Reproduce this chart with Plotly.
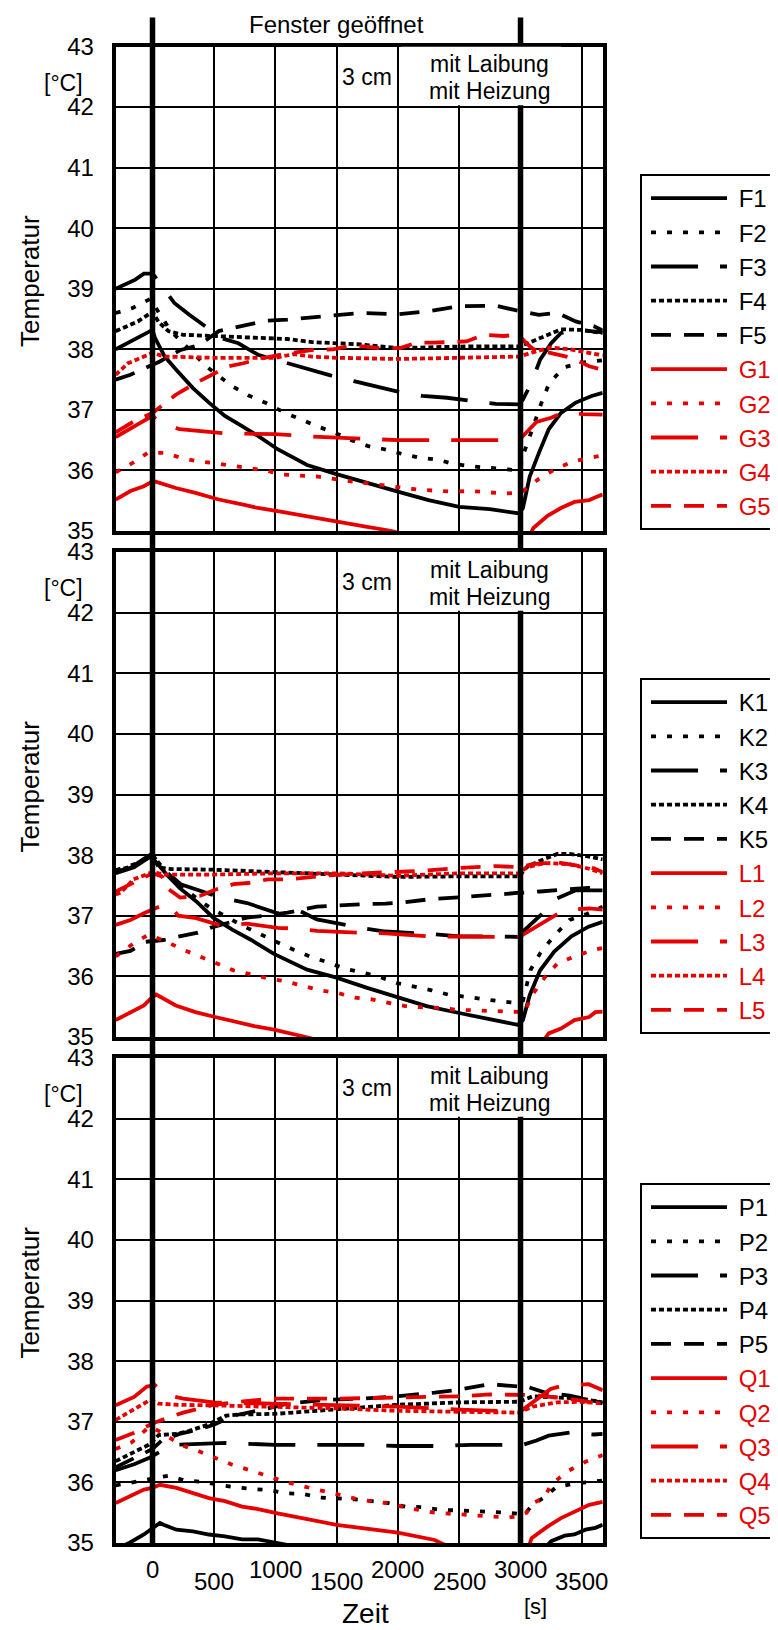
import plotly.graph_objects as go

# ---------------- data (time in s, temperature in °C) ----------------
# Panel 1
F1_t = [-300,-180,-70,0,20,100,195,330,460,590,730,860,1020,1260,1500,1750,2000,2250,2500,2750,2990,3020,3075,3150,3230,3330,3450,3580,3670]
F1_T = [38.0,38.13,38.24,38.32,38.19,37.88,37.66,37.36,37.12,36.9,36.73,36.57,36.35,36.09,35.94,35.79,35.65,35.51,35.4,35.36,35.29,35.38,35.9,36.29,36.68,36.95,37.12,37.23,37.28]
F2_t = [-300,-165,-20,150,300,450,650,780,930,1070,1200,1340,1490,1620,1760,1890,2040,2180,2320,2450,2590,2740,2870,2990,3030,3080,3175,3230,3350,3500,3670]
F2_T = [38.6,38.68,38.83,38.3,38.0,37.7,37.39,37.24,37.11,36.96,36.85,36.73,36.62,36.5,36.4,36.35,36.27,36.21,36.18,36.11,36.07,36.04,36.01,36.0,36.3,36.6,37.14,37.42,37.7,37.78,37.82]
F3_t = [-300,-200,-140,-70,0,20,180,300,430,520,700,860,1050,1270,1450,1650,1830,2000,2200,2400,2600,2800,2990,3020,3090,3160,3250,3330,3470,3670]
F3_T = [39.0,39.09,39.15,39.25,39.25,39.2,38.76,38.57,38.38,38.21,38.1,37.91,37.8,37.67,37.57,37.47,37.39,37.3,37.23,37.2,37.15,37.1,37.09,37.17,37.45,37.83,38.1,38.27,38.32,38.28]
F4_t = [-300,-200,-120,-60,0,50,130,250,500,800,1100,1300,1500,1700,2000,2300,2600,2990,3060,3200,3330,3500,3670]
F4_T = [38.3,38.38,38.46,38.54,38.62,38.45,38.3,38.24,38.22,38.2,38.17,38.12,38.1,38.08,38.02,38.04,38.05,38.05,38.1,38.22,38.33,38.32,38.27]
F5_t = [-300,-180,-50,60,230,380,540,660,800,920,1100,1400,1700,2000,2250,2500,2800,2950,3020,3150,3300,3450,3600,3670]
F5_T = [37.5,37.58,37.7,37.8,37.99,38.07,38.3,38.35,38.42,38.47,38.49,38.55,38.6,38.58,38.63,38.71,38.72,38.65,38.62,38.57,38.6,38.46,38.38,38.31]
G1_t = [-300,-180,-70,0,20,190,350,540,730,860,1020,1260,1500,1750,1950,2500,3000,3105,3220,3330,3440,3560,3640,3670]
G1_T = [35.52,35.66,35.74,35.82,35.82,35.71,35.63,35.52,35.44,35.38,35.33,35.24,35.15,35.07,35.0,34.7,34.6,35.05,35.25,35.38,35.48,35.51,35.58,35.6]
G2_t = [-300,-165,-40,100,230,370,510,640,775,915,1070,1340,1620,1890,2180,2450,2600,2730,2870,2990,3020,3150,3290,3430,3570,3670]
G2_T = [35.97,36.12,36.29,36.29,36.21,36.15,36.12,36.08,36.04,36.0,35.93,35.9,35.82,35.76,35.68,35.65,35.66,35.64,35.62,35.63,35.66,35.86,36.03,36.15,36.21,36.25]
G3_t = [-300,-150,0,50,220,600,1000,1300,1700,2000,2500,2990,3020,3130,3250,3370,3500,3670]
G3_T = [36.55,36.72,36.9,36.81,36.68,36.61,36.6,36.56,36.53,36.5,36.5,36.5,36.57,36.8,36.87,36.98,36.93,36.92]
G4_t = [-300,-200,-70,0,100,500,1000,1150,1300,1500,2000,2500,2990,3100,3250,3400,3550,3670]
G4_T = [37.58,37.77,37.88,37.94,37.88,37.86,37.86,37.92,37.88,37.86,37.84,37.86,37.88,37.95,38.03,38.0,37.95,37.9]
G5_t = [-300,-160,0,100,190,350,460,620,740,910,1100,1310,1470,1600,1720,1850,2020,2150,2290,2450,2560,2700,2860,2980,3075,3150,3200,3415,3560,3670]
G5_T = [36.63,36.8,36.95,37.1,37.25,37.44,37.55,37.72,37.77,37.86,37.93,37.99,38.0,38.05,38.05,38.02,38.02,38.11,38.11,38.13,38.13,38.24,38.22,38.24,38.05,37.94,37.96,37.86,37.72,37.66]

# Panel 2
K1_t = [-300,-180,-70,-20,0,10,115,220,355,500,650,805,990,1260,1500,1750,1985,2235,2490,2720,2980,3020,3075,3160,3275,3415,3555,3670]
K1_T = [37.73,37.79,37.94,38.01,38.03,37.93,37.68,37.46,37.24,36.96,36.77,36.6,36.37,36.11,35.98,35.81,35.67,35.51,35.4,35.31,35.2,35.28,35.69,36.1,36.41,36.66,36.82,36.9]
K2_t = [-300,-100,0,100,250,470,740,880,1030,1150,1280,1430,1580,1720,1850,1990,2125,2275,2410,2545,2680,2830,2970,3020,3080,3160,3270,3400,3540,3670]
K2_T = [37.75,37.88,38.0,37.75,37.45,37.13,36.83,36.69,36.55,36.44,36.33,36.23,36.12,36.06,35.99,35.89,35.84,35.77,35.7,35.66,35.62,35.59,35.56,35.6,36.1,36.38,36.66,36.93,37.03,37.15]
K3_t = [-300,-150,0,100,230,570,770,1020,1200,1340,1700,1900,2260,2500,2800,2990,3020,3160,3300,3450,3670]
K3_T = [37.7,37.8,38.0,37.75,37.52,37.29,37.21,37.04,37.08,36.94,36.8,36.74,36.7,36.66,36.66,36.65,36.74,37.0,37.29,37.42,37.42]
K4_t = [-300,-150,0,50,150,500,1000,1300,1700,2000,2500,2990,3050,3150,3300,3400,3550,3670]
K4_T = [37.75,37.82,38.0,37.8,37.77,37.76,37.72,37.7,37.66,37.64,37.65,37.65,37.8,37.9,38.02,38.02,37.98,37.93]
K5_t = [-300,-180,-60,90,220,370,470,770,910,1100,1340,1500,1700,1900,2050,2250,2500,2750,2880,2990,3020,3160,3290,3460,3550,3670]
K5_T = [36.37,36.42,36.57,36.6,36.66,36.72,36.8,36.97,37.0,37.05,37.15,37.17,37.19,37.2,37.22,37.27,37.3,37.33,37.36,37.38,37.38,37.4,37.42,37.46,37.46,37.42]
L1_t = [-300,-180,-70,0,30,190,350,510,670,830,990,1150,1250,2000,3000,3230,3330,3440,3560,3610,3670]
L1_T = [35.28,35.41,35.52,35.66,35.7,35.52,35.41,35.33,35.25,35.18,35.12,35.05,35.0,34.6,34.4,35.06,35.14,35.28,35.33,35.41,35.42]
L2_t = [-300,-150,-30,115,250,380,525,660,790,935,1080,1220,1365,1500,1650,1790,1920,2060,2190,2340,2480,2610,2760,2900,3030,3105,3200,3300,3440,3600,3670]
L2_T = [36.33,36.55,36.69,36.57,36.44,36.33,36.22,36.1,36.04,35.97,35.92,35.85,35.77,35.73,35.65,35.62,35.56,35.51,35.49,35.48,35.45,35.44,35.42,35.41,35.41,35.72,35.99,36.21,36.33,36.44,36.47]
L3_t = [-300,-180,-70,0,90,115,210,355,570,770,1020,1150,1340,1700,1900,2260,2450,2820,2990,3020,3130,3250,3360,3560,3670]
L3_T = [36.85,36.93,37.04,37.1,37.18,37.22,37.0,36.96,36.83,36.87,36.8,36.79,36.75,36.72,36.71,36.66,36.66,36.65,36.65,36.69,36.82,36.96,37.1,37.12,37.1]
L4_t = [-300,-260,-155,0,100,500,1000,1500,2000,2500,2990,3050,3200,3400,3550,3670]
L4_T = [37.35,37.38,37.6,37.72,37.68,37.68,37.7,37.7,37.66,37.7,37.7,37.8,37.87,37.85,37.78,37.7]
L5_t = [-300,-150,0,76,130,225,390,510,660,780,940,1100,1400,1700,2000,2200,2500,2800,2990,3100,3300,3450,3600,3670]
L5_T = [37.4,37.55,37.7,37.65,37.44,37.3,37.33,37.43,37.52,37.54,37.6,37.6,37.66,37.7,37.72,37.74,37.79,37.82,37.8,37.85,37.88,37.83,37.78,37.72]

# Panel 3
P1_t = [-300,-190,-70,60,90,195,330,460,590,730,860,1020,1500,2500,3000,3250,3360,3440,3530,3610,3670]
P1_T = [34.9,35.0,35.14,35.33,35.3,35.22,35.19,35.14,35.11,35.06,35.06,35.0,34.8,34.6,34.5,35.03,35.12,35.14,35.22,35.25,35.3]
P2_t = [-300,-155,-20,130,265,400,540,670,820,960,1090,1230,1365,1510,1650,1790,1920,2060,2210,2340,2480,2610,2760,2900,3030,3100,3190,3290,3440,3590,3670]
P2_T = [35.95,36.0,36.05,36.11,36.03,36.01,35.96,35.92,35.89,35.87,35.82,35.81,35.75,35.74,35.72,35.69,35.66,35.6,35.59,35.55,35.54,35.53,35.51,35.5,35.47,35.63,35.75,35.92,35.98,36.02,36.03]
P3_t = [-300,-230,-150,-30,100,200,600,1000,1350,1730,2000,2300,2600,2840,2990,3020,3130,3230,3300,3400,3600,3670]
P3_T = [36.2,36.24,36.3,36.4,36.55,36.62,36.65,36.62,36.62,36.62,36.6,36.6,36.62,36.62,36.62,36.62,36.69,36.77,36.79,36.82,36.79,36.8]
P4_t = [-300,-200,-100,-30,50,200,300,450,600,700,1000,1500,2000,2500,2990,3100,3300,3500,3670]
P4_T = [36.35,36.45,36.55,36.62,36.78,36.8,36.85,36.95,37.1,37.12,37.13,37.2,37.28,37.32,37.33,37.42,37.4,37.38,37.32]
P5_t = [-300,-200,-100,0,80,220,390,500,660,900,1100,1400,1700,2000,2300,2500,2750,2900,2990,3020,3200,3400,3600,3670]
P5_T = [36.25,36.35,36.45,36.55,36.7,36.8,36.88,36.95,37.1,37.2,37.3,37.36,37.38,37.42,37.48,37.53,37.62,37.6,37.58,37.6,37.48,37.43,37.35,37.3]
Q1_t = [-300,-180,-70,0,60,195,330,460,590,730,860,1020,1500,2000,2300,2350,2700,3000,3090,3220,3330,3440,3560,3670]
Q1_T = [35.66,35.77,35.88,35.91,35.96,35.91,35.82,35.74,35.69,35.6,35.56,35.49,35.3,35.17,35.05,35.0,34.7,34.5,35.08,35.27,35.41,35.52,35.63,35.68]
Q2_t = [-300,-170,-25,50,130,230,370,510,650,780,925,1100,1300,1500,1700,1900,2100,2300,2500,2700,2900,3000,3050,3100,3190,3250,3380,3530,3670]
Q2_T = [36.55,36.66,36.92,36.85,36.75,36.62,36.52,36.4,36.29,36.21,36.11,36.0,35.9,35.8,35.71,35.66,35.57,35.5,35.47,35.44,35.42,35.45,35.5,35.66,35.74,35.96,36.18,36.34,36.45]
Q3_t = [-300,-150,-46,22,100,250,500,1000,1500,2000,2500,2990,3020,3133,3246,3330,3556,3670]
Q3_T = [37.27,37.41,37.58,37.6,37.45,37.38,37.32,37.3,37.28,37.25,37.2,37.17,37.2,37.37,37.54,37.59,37.62,37.52]
Q4_t = [-300,-150,-20,50,200,500,1000,1500,2000,2500,2990,3100,3300,3500,3670]
Q4_T = [37.03,37.2,37.36,37.3,37.28,37.27,37.25,37.22,37.18,37.17,37.15,37.25,37.32,37.33,37.3]
Q5_t = [-300,-150,0,100,250,500,800,1000,1500,2000,2250,2500,2750,2990,3100,3300,3500,3670]
Q5_T = [36.7,36.82,36.97,37.05,37.15,37.28,37.35,37.38,37.38,37.4,37.42,37.42,37.45,37.45,37.44,37.4,37.35,37.28]

panel1_names = ["F1", "F2", "F3", "F4", "F5", "G1", "G2", "G3", "G4", "G5"]
panel2_names = ["K1", "K2", "K3", "K4", "K5", "L1", "L2", "L3", "L4", "L5"]
panel3_names = ["P1", "P2", "P3", "P4", "P5", "Q1", "Q2", "Q3", "Q4", "Q5"]

x_range = [-300, 3670]
y_range = [35, 43]
xtick_upper = [0, 1000, 2000, 3000]
xtick_lower = [500, 1500, 2500, 3500]
window_open = [0, 3000]

# ---------------- styling ----------------
W, H = 778, 1630
OFF = 8  # page body margin offset compensation (px)
FONT = "Liberation Sans, Arial, sans-serif"
RED = "rgb(230,0,0)"
BLACK = "black"
DASHES = ["solid", "5px,11px", "47px,22px", "5px,3px", "20px,13px"]
NBSP = "\u00a0"


def px_x(v):
    return (v - OFF) / W


def px_y(v):
    return 1 - (v - OFF) / H


series = {}
for nm in panel1_names + panel2_names + panel3_names:
    series[nm] = (globals()[nm + "_t"], globals()[nm + "_T"])

x_dom = [px_x(115.7), px_x(602.7)]
y_px = [(46.5, 531), (552, 1037), (1058, 1543)]
y_doms = [[px_y(b), px_y(t)] for t, b in y_px]
legend_tops = [174, 678, 1183]

fig = go.Figure()
for p, names in enumerate([panel1_names, panel2_names, panel3_names]):
    i = p + 1
    leg = "legend" if i == 1 else f"legend{i}"
    for k, nm in enumerate(names):
        col = BLACK if k < 5 else RED
        t, T = series[nm]
        label = NBSP + nm if k < 5 else f"<span style='color:{RED}'>{NBSP}{nm}</span>"
        fig.add_trace(go.Scatter(
            x=t, y=T, mode="lines", name=label,
            line=dict(color=col, width=3.8, dash=DASHES[k % 5]),
            xaxis=f"x{i}", yaxis=f"y{i}", legend=leg, legendgroup=nm,
            hoverinfo="skip"))

layout = dict(
    width=W, height=H, autosize=False,
    margin=dict(l=0, r=0, t=0, b=0, autoexpand=False),
    paper_bgcolor="white", plot_bgcolor="white",
    font=dict(family=FONT, color="black", size=22),
    showlegend=True,
)


def ann(text, xref, x, yref, y, size, **kw):
    d = dict(text=text, xref=xref, x=x, yref=yref, y=y, showarrow=False,
             xanchor="center", yanchor="middle", font=dict(size=size, family=FONT))
    d.update(kw)
    return d


annotations = []
shapes = []
for p in range(3):
    i = p + 1
    sfx = "" if i == 1 else str(i)
    layout[f"xaxis{sfx}"] = dict(
        domain=x_dom, range=x_range, anchor=f"y{i}",
        tick0=0, dtick=500, showgrid=True, gridcolor="black", gridwidth=2,
        showline=True, linecolor="black", linewidth=4, mirror=True,
        ticks="", showticklabels=False, zeroline=False)
    layout[f"yaxis{sfx}"] = dict(
        domain=y_doms[p], range=y_range, anchor=f"x{i}",
        tick0=35, dtick=1, showgrid=True, gridcolor="black", gridwidth=2,
        showline=True, linecolor="black", linewidth=4, mirror=True,
        ticks="", ticklabelstandoff=13, tickfont=dict(size=24, family=FONT),
        zeroline=False)
    legname = "legend" if i == 1 else f"legend{i}"
    layout[legname] = dict(
        x=px_x(640), xanchor="left", y=px_y(legend_tops[p]), yanchor="top",
        bgcolor="white", bordercolor="black", borderwidth=2,
        font=dict(size=24, family=FONT, color="black"),
        itemwidth=76, tracegroupgap=1, traceorder="normal", indentation=4)
    annotations += [
        ann("[°C]", "paper", px_x(63), f"y{i}", 42.4, 23),
        ann("Temperatur", "paper", px_x(30), f"y{i}", 39.13, 26, textangle=-90),
        ann("3 cm", f"x{i}", 1748, f"y{i}", 42.5, 23),
        ann("mit Laibung", f"x{i}", 2750, f"y{i}", 42.71, 23),
        ann("mit Heizung", f"x{i}", 2750, f"y{i}", 42.26, 23),
    ]

# thick window-open lines spanning all panels, then white text boxes
for xv in window_open:
    shapes.append(dict(type="line", xref="x", yref="paper", x0=xv, x1=xv,
                       y0=px_y(1545), y1=px_y(17.5),
                       line=dict(color="black", width=5.5), layer="above"))
for i in (1, 2, 3):
    shapes.append(dict(type="rect", xref=f"x{i}", yref=f"y{i}", x0=2025, x1=3330,
                       y0=42.03, y1=43, fillcolor="white", line=dict(width=0),
                       layer="above"))

annotations.append(ann("Fenster geöffnet", "x", 1500, "paper", px_y(24.5), 24))
for v in xtick_upper:
    annotations.append(ann(str(v), "x3", v, "paper", px_y(1569), 24))
for v in xtick_lower:
    annotations.append(ann(str(v), "x3", v, "paper", px_y(1581), 24))
annotations.append(ann("Zeit", "x3", 1735, "paper", px_y(1613), 28))
annotations.append(ann("[s]", "x3", 3120, "paper", px_y(1606), 22))

layout["annotations"] = annotations
layout["shapes"] = shapes
fig.update_layout(**layout)
fig.write_html("out.html")
